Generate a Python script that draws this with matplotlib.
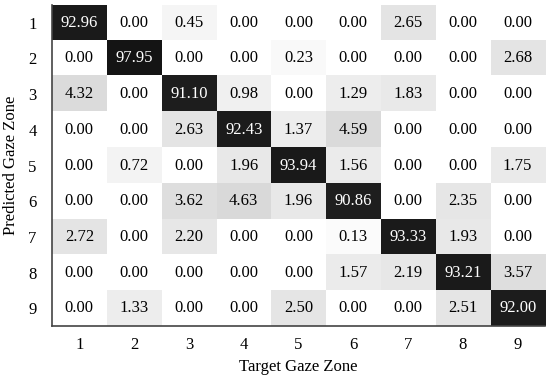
import matplotlib.pyplot as plt
import numpy as np
from matplotlib.colors import LinearSegmentedColormap, PowerNorm

plt.rcParams['font.family'] = ['Liberation Serif', 'DejaVu Serif']

# confusion matrix, rows = predicted zone, cols = target zone (%)
zones = ["1", "2", "3", "4", "5", "6", "7", "8", "9"]
row1 = [92.96, 0.00, 0.45, 0.00, 0.00, 0.00, 2.65, 0.00, 0.00]
row2 = [0.00, 97.95, 0.00, 0.00, 0.23, 0.00, 0.00, 0.00, 2.68]
row3 = [4.32, 0.00, 91.10, 0.98, 0.00, 1.29, 1.83, 0.00, 0.00]
row4 = [0.00, 0.00, 2.63, 92.43, 1.37, 4.59, 0.00, 0.00, 0.00]
row5 = [0.00, 0.72, 0.00, 1.96, 93.94, 1.56, 0.00, 0.00, 1.75]
row6 = [0.00, 0.00, 3.62, 4.63, 1.96, 90.86, 0.00, 2.35, 0.00]
row7 = [2.72, 0.00, 2.20, 0.00, 0.00, 0.13, 93.33, 1.93, 0.00]
row8 = [0.00, 0.00, 0.00, 0.00, 0.00, 1.57, 2.19, 93.21, 3.57]
row9 = [0.00, 1.33, 0.00, 0.00, 2.50, 0.00, 0.00, 2.51, 92.00]

cm = np.array([row1, row2, row3, row4, row5, row6, row7, row8, row9])

fig = plt.figure(figsize=(5.5, 3.77), dpi=100)
ax = fig.add_axes([0.0945, 0.135, 0.8965, 0.852])

cmap = LinearSegmentedColormap.from_list("g", ["#ffffff", "#141414"])
ax.imshow(cm, cmap=cmap, norm=PowerNorm(gamma=0.6, vmin=0, vmax=98), aspect="auto")

for i in range(cm.shape[0]):
    for j in range(cm.shape[1]):
        v = cm[i, j]
        ax.text(j, i, f"{v:.2f}", ha="center", va="center", fontsize=12,
                color="white" if v > 50 else "black")

ax.set_xticks(range(9))
ax.set_xticklabels(zones, fontsize=12)
ax.set_yticks(range(9))
ax.set_yticklabels(zones, fontsize=12)
ax.tick_params(axis="x", length=0, pad=8)
ax.tick_params(axis="y", length=0, pad=11)
ax.set_xlabel("Target Gaze Zone", fontsize=12, labelpad=4)
ax.set_ylabel("Predicted Gaze Zone", fontsize=12, labelpad=7)

for s in ["top", "right"]:
    ax.spines[s].set_visible(False)
for s in ["left", "bottom"]:
    ax.spines[s].set_color("#444444")
    ax.spines[s].set_linewidth(1.2)

plt.savefig("out.png", dpi=100)
